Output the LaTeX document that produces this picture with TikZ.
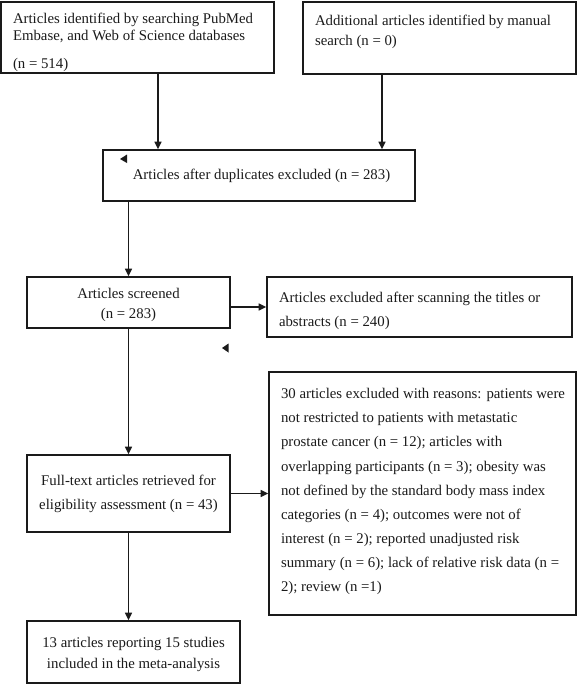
\documentclass[tikz,border=0pt]{standalone}
\usepackage{fontspec}
\setmainfont{Liberation Serif}
\usetikzlibrary{arrows.meta}
\definecolor{ink}{HTML}{1A1A1A}
\tikzset{
  box/.style={draw=ink, line width=1.7pt, rectangle, inner sep=0pt, text=ink,
    font=\fontsize{14.8}{20}\selectfont},
  arr/.style={draw=ink, line width=1.6pt, -{Triangle[length=7.5pt,width=7pt]}},
  stray/.style={fill=ink, draw=none},
}
\begin{document}
\begin{tikzpicture}[x=1pt, y=-1pt]
\useasboundingbox (0,0) rectangle (577,685);

\node[box, minimum width=273pt, minimum height=71pt, align=left,
      font=\fontsize{14.8}{17.5}\selectfont] (B1) at (137.5,37.5)
  {\rule{0pt}{19.5pt}\makebox[249pt][l]{Articles identified by searching PubMed}\\Embase, and Web of Science databases\\[10pt](n = 514)};
\node[box, minimum width=273pt, minimum height=72pt, align=left] (B2) at (439.5,38)
  {\rule{0pt}{20.5pt}\makebox[249pt][l]{Additional articles identified by manual}\\search (n = 0)\\\strut};
\node[box, minimum width=312pt, minimum height=51pt] (B3) at (259,175.5)
  {\hspace*{5pt}Articles after duplicates excluded (n = 283)};
\node[box, minimum width=203pt, minimum height=51pt, align=center] (B4) at (128.5,302.5)
  {\rule{0pt}{14.5pt}Articles screened\\(n = 283)};
\node[box, minimum width=305pt, minimum height=60pt, align=left,
      font=\fontsize{14.8}{24}\selectfont] (B5) at (419.5,307)
  {\rule{0pt}{17.5pt}\makebox[281pt][l]{Articles excluded after scanning the titles or}\\abstracts (n = 240)};
\node[box, minimum width=203pt, minimum height=77pt, align=center,
      font=\fontsize{14.8}{24}\selectfont] (B6) at (128.5,493.5)
  {Full-text articles retrieved for\\eligibility assessment (n = 43)};
\node[box, minimum width=307pt, minimum height=243pt, align=left,
      font=\fontsize{14.8}{24.1}\selectfont] (B7) at (422.5,493.5)
  {\makebox[283pt][l]{30 articles excluded with reasons: patients were}\\
   not restricted to patients with metastatic\\
   prostate cancer (n = 12); articles with\\
   overlapping participants (n = 3); obesity was\\
   not defined by the standard body mass index\\
   categories (n = 4); outcomes were not of\\
   interest (n = 2); reported unadjusted risk\\
   summary (n = 6); lack of relative risk data (n =\\
   2); review (n =1)\rule[-7pt]{0pt}{7pt}};
\node[box, minimum width=213pt, minimum height=62pt, align=center,
      font=\fontsize{14.8}{21}\selectfont] (B8) at (133.5,652)
  {\rule{0pt}{15.5pt}13 articles reporting 15 studies\\included in the meta-analysis};

% connectors
\draw[arr] ([xshift=20.5pt]B1.south) -- ([xshift=20.5pt]B1.south |- B3.north);
\draw[arr] ([xshift=-57.5pt]B2.south) -- ([xshift=-57.5pt]B2.south |- B3.north);
\draw[arr] (B4.north |- B3.south) -- (B4.north);
\draw[arr] (B5.west -| B4.east) -- (B5.west);
\draw[arr] (B4.south) -- (B6.north);
\draw[arr] (B6.east) -- (B7.west);
\draw[arr] (B6.south) -- (B6.south |- B8.north);

% stray arrowhead marks shown in the figure
\fill[stray] (120,159) -- (127,154.5) -- (127,163) -- cycle;
\fill[stray] (222,348) -- (228.5,343.5) -- (228.5,352.5) -- cycle;
\end{tikzpicture}
\end{document}
